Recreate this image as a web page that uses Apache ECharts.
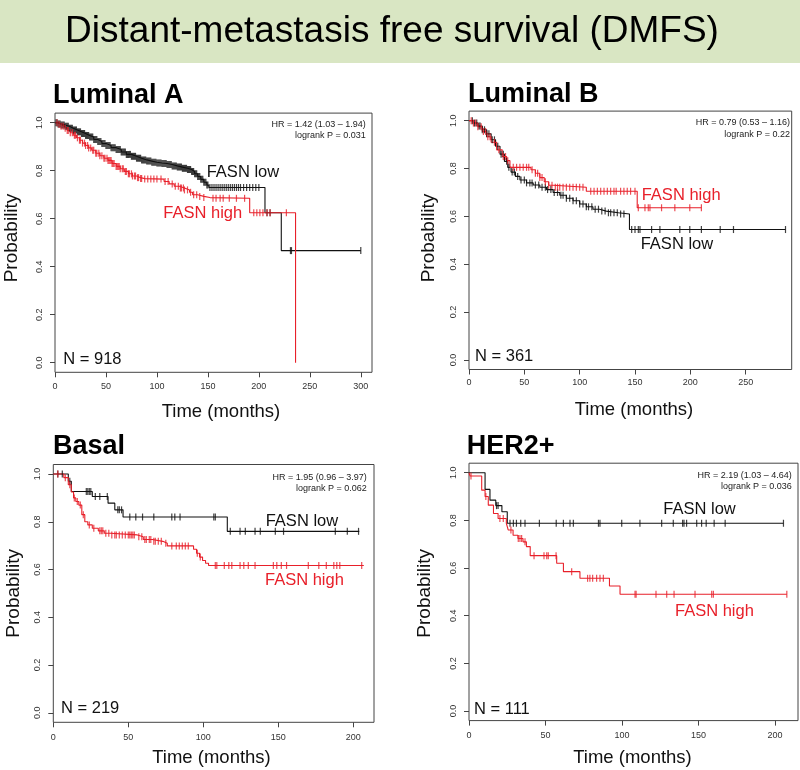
<!DOCTYPE html>
<html><head><meta charset="utf-8">
<script src="https://cdn.jsdelivr.net/npm/echarts@6/dist/echarts.min.js"></script>
<style>html,body{margin:0;padding:0;background:#fff}#c{width:800px;height:770px}</style>
</head><body><div id="c"></div>
<script>
// ---------- DATA ----------
const mainTitle = 'Distant-metastasis free survival (DMFS)';
const panelTitles = ['Luminal A', 'Luminal B', 'Basal', 'HER2+'];
const hrTexts = ['HR = 1.42 (1.03 – 1.94)', 'HR = 0.79 (0.53 – 1.16)', 'HR = 1.95 (0.96 – 3.97)', 'HR = 2.19 (1.03 – 4.64)'];
const pTexts = ['logrank P = 0.031', 'logrank P = 0.22', 'logrank P = 0.062', 'logrank P = 0.036'];
const nTexts = ['N = 918', 'N = 361', 'N = 219', 'N = 111'];
const lowLabel = 'FASN low';
const highLabel = 'FASN high';
const yAxisName = 'Probability';
const xAxisName = 'Time (months)';
const yTicks = [0, 0.2, 0.4, 0.6, 0.8, 1.0];
const xTicksA = [0, 50, 100, 150, 200, 250, 300];
const xTicksB = [0, 50, 100, 150, 200, 250];
const xTicksC = [0, 50, 100, 150, 200];
const xTicksD = [0, 50, 100, 150, 200];
const xMaxes = [311, 291.6, 213.8, 215];

// Luminal A
const lumA_low_t = [0, 3, 6, 10, 14, 18, 22, 26, 30, 34, 38, 42, 46, 50, 55, 60, 65, 70, 75, 80, 85, 90, 95, 100, 105, 110, 115, 120, 125, 130, 134, 137, 140, 143, 146, 149, 151, 206, 222, 300];
const lumA_low_s = [1.0, 0.995, 0.99, 0.985, 0.977, 0.97, 0.962, 0.955, 0.947, 0.94, 0.93, 0.922, 0.913, 0.905, 0.896, 0.888, 0.878, 0.868, 0.86, 0.852, 0.845, 0.84, 0.835, 0.832, 0.83, 0.826, 0.82, 0.815, 0.81, 0.805, 0.797, 0.787, 0.776, 0.764, 0.752, 0.74, 0.73, 0.625, 0.467, 0.467];
const lumA_low_cens = [1, 2, 3, 4, 5, 6, 7, 8, 9, 10, 11, 12, 13, 14, 15, 16, 17, 18, 19, 20, 21, 22, 23, 24, 25, 26, 27, 28, 29, 30, 31, 32, 33, 34, 35, 36, 37, 38, 39, 40, 41, 42, 43, 44, 45, 46, 47, 48, 49, 50, 51, 52, 53, 54, 55, 56, 57, 58, 59, 60, 61, 62, 63, 64, 65, 66, 67, 68, 69, 70, 71, 72, 73, 74, 75, 76, 77, 78, 79, 80, 81, 82, 83, 84, 85, 86, 87, 88, 89, 90, 91, 92, 93, 94, 95, 96, 97, 98, 99, 100, 101, 102, 103, 104, 105, 106, 107, 108, 109, 110, 111, 112, 113, 114, 115, 116, 117, 118, 119, 120, 121, 122, 123, 124, 125, 126, 127, 128, 129, 130, 131, 132, 133, 134, 135, 136, 137, 138, 139, 140, 141, 142, 143, 144, 145, 146, 147, 148, 149, 150, 152, 154, 156, 158, 160, 162, 164, 166, 168, 170, 172, 174, 176, 178, 180, 182, 185, 188, 191, 194, 197, 200, 208, 211, 231, 232, 300];
const lumA_high_t = [0, 3, 6, 9, 12, 15, 18, 21, 24, 27, 30, 33, 36, 40, 44, 48, 52, 56, 60, 64, 68, 72, 76, 80, 84, 88, 107, 112, 117, 122, 127, 132, 135, 140, 146, 152, 191, 236];
const lumA_high_s = [1.0, 0.993, 0.985, 0.977, 0.968, 0.958, 0.948, 0.937, 0.927, 0.915, 0.905, 0.895, 0.885, 0.873, 0.862, 0.852, 0.843, 0.83, 0.818, 0.808, 0.797, 0.787, 0.778, 0.771, 0.767, 0.765, 0.755, 0.745, 0.735, 0.728, 0.72, 0.71, 0.70, 0.693, 0.688, 0.685, 0.625, 0.0];
const lumA_high_cens = [2, 4, 6, 8, 10, 12, 13, 15, 17, 19, 20, 22, 24, 25, 27, 29, 30, 32, 33, 35, 37, 38, 40, 41, 43, 44, 46, 48, 49, 51, 52, 53, 54, 55, 56, 57, 58, 60, 61, 62, 63, 64, 66, 67, 69, 70, 72, 73, 75, 76, 78, 79, 81, 82, 84, 85, 88, 91, 94, 97, 100, 104, 108, 111, 115, 118, 121, 123, 124, 126, 127, 130, 133, 136, 139, 142, 146, 155, 158, 162, 165, 171, 178, 186, 195, 198, 201, 204, 208, 211, 227];

// Luminal B
const lumB_low_t = [0, 4, 8, 12, 16, 20, 24, 28, 32, 35, 38, 42, 46, 52, 58, 64, 70, 76, 82, 88, 94, 100, 106, 112, 118, 124, 135, 145, 286];
const lumB_low_s = [1.0, 0.99, 0.978, 0.962, 0.945, 0.92, 0.893, 0.86, 0.83, 0.805, 0.785, 0.767, 0.752, 0.74, 0.731, 0.722, 0.712, 0.70, 0.688, 0.676, 0.665, 0.652, 0.64, 0.63, 0.622, 0.615, 0.61, 0.545, 0.545];
const lumB_low_cens = [3, 5, 7, 9, 10, 12, 14, 16, 18, 21, 23, 26, 29, 31, 34, 36, 39, 41, 44, 47, 50, 52, 55, 57, 60, 63, 66, 69, 71, 74, 77, 80, 83, 85, 88, 91, 94, 97, 100, 103, 106, 108, 111, 114, 117, 120, 123, 126, 128, 131, 134, 137, 140, 147, 150, 153, 154.5, 165, 172.5, 190.5, 199.5, 210, 227, 239, 286];
const lumB_high_t = [0, 4, 8, 12, 16, 20, 25, 30, 34, 37, 56, 60, 64, 68, 72, 76, 106, 152, 210];
const lumB_high_s = [1.0, 0.99, 0.975, 0.955, 0.933, 0.91, 0.878, 0.85, 0.833, 0.805, 0.795, 0.78, 0.762, 0.745, 0.73, 0.722, 0.705, 0.636, 0.636];
const lumB_high_cens = [2, 4, 6, 8, 11, 13, 15, 17, 19, 23, 27, 31, 33, 35, 40, 43, 46, 49, 52, 54, 57, 60, 62, 64, 66, 69, 72, 75, 78, 80, 82, 85, 88, 91, 94, 97, 100, 103, 110, 113, 116, 119, 122, 125, 128, 131, 133, 137, 140, 143, 146, 150, 153, 159, 162, 163.5, 174, 186, 199.5, 210];

// Basal
const basal_low_t = [0, 10, 12, 26, 36.5, 41, 46.5, 116, 204];
const basal_low_s = [1.0, 0.97, 0.927, 0.906, 0.878, 0.85, 0.82, 0.76, 0.76];
const basal_low_cens = [3, 6, 11, 22, 23, 24, 25, 28, 31, 36, 43, 44, 45.5, 51, 55, 59.5, 67, 79, 81, 84.5, 107, 108, 118, 124.5, 128, 134.5, 138, 148, 153.5, 188, 196, 203.5];
const basal_high_t = [0, 7, 10, 12, 13.5, 15, 17, 19, 21, 23, 26, 30, 34, 38, 56, 60, 66, 73, 76, 93.5, 95.5, 97.5, 99.5, 101.5, 103.5, 207];
const basal_high_s = [1.0, 0.985, 0.955, 0.925, 0.9, 0.885, 0.87, 0.83, 0.8, 0.787, 0.773, 0.762, 0.752, 0.745, 0.737, 0.726, 0.718, 0.71, 0.699, 0.685, 0.668, 0.652, 0.638, 0.626, 0.617, 0.617];
const basal_high_cens = [3, 8, 11, 14, 16, 18, 20, 24, 27, 31, 32, 33, 35, 37, 39, 41, 42, 44, 46, 48, 50, 51, 52, 53, 54, 57, 59, 61, 62, 64, 65, 67, 68, 70, 72, 75, 79, 82, 84, 86, 88, 90, 96, 98, 108, 109, 114, 117, 119, 124.5, 127, 130, 134.5, 146.7, 149, 152, 155.5, 170, 177, 182, 187, 189, 191, 205.6];

// HER2+
const her2_low_t = [0, 10.5, 13.7, 17.5, 21.5, 25, 205.5];
const her2_low_s = [1.0, 0.93, 0.885, 0.862, 0.836, 0.788, 0.788];
const her2_low_cens = [18, 19, 26.8, 29, 31, 33.8, 36.6, 46, 57, 61.7, 66, 68.2, 84.6, 85.6, 99.8, 111.7, 125.9, 133.5, 139.6, 140.5, 142.2, 148.8, 152, 155, 160.2, 167.4, 205.5];
const her2_high_t = [0, 0.7, 8.3, 10.5, 12.6, 16, 19, 24.4, 25.6, 28.8, 32, 35.3, 37.5, 40, 57.3, 61.7, 72.5, 91.8, 98.7, 207.7];
const her2_high_s = [1.0, 0.986, 0.927, 0.9, 0.864, 0.829, 0.808, 0.788, 0.76, 0.738, 0.724, 0.71, 0.69, 0.652, 0.62, 0.585, 0.557, 0.525, 0.49, 0.49];
const her2_high_cens = [1.3, 11, 20.2, 22.4, 27.4, 32.2, 33.3, 34.4, 36.6, 42.5, 49, 50.8, 51.8, 56.9, 67.1, 77.5, 79, 80.8, 83.4, 85.6, 87.8, 108.5, 109.2, 122.2, 129.2, 134, 147.7, 158.6, 159.7, 207.7];

// ---------- BUILD ----------
const panels = [
  {low: [lumA_low_t, lumA_low_s, lumA_low_cens], high: [lumA_high_t, lumA_high_s, lumA_high_cens], xt: xTicksA},
  {low: [lumB_low_t, lumB_low_s, lumB_low_cens], high: [lumB_high_t, lumB_high_s, lumB_high_cens], xt: xTicksB},
  {low: [basal_low_t, basal_low_s, basal_low_cens], high: [basal_high_t, basal_high_s, basal_high_cens], xt: xTicksC},
  {low: [her2_low_t, her2_low_s, her2_low_cens], high: [her2_high_t, her2_high_s, her2_high_cens], xt: xTicksD}
];

// layout (pixels)
const grids = [
  {left: 55, top: 113.1, width: 317, height: 259.2},
  {left: 469, top: 111.1, width: 322.7, height: 258.4},
  {left: 53.3, top: 464.5, width: 320.7, height: 257.8},
  {left: 469, top: 463.2, width: 329, height: 257.4}
];
const xLabelMargin = [10, 9, 11, 10];
const layoutText = [
  {title: [53, 96], hr: [365.7, 124.3], p: [365.7, 136], lowL: [206.7, 172.7], highL: [163.3, 213.3], n: [63.3, 359.3], prob: [11.7, 238], time: [221, 412]},
  {title: [468, 95], hr: [790, 122.7], p: [790, 135], lowL: [640.7, 244], highL: [641.7, 195], n: [475, 356.7], prob: [428.3, 238], time: [634, 410]},
  {title: [53, 446.7], hr: [366.7, 477.3], p: [366.7, 488.3], lowL: [265.7, 521.7], highL: [265, 580], n: [61, 708.3], prob: [13.3, 593.3], time: [211.5, 758.3]},
  {title: [466.7, 446.7], hr: [791.7, 475.7], p: [791.7, 486.7], lowL: [663.3, 509.3], highL: [675, 611.7], n: [474, 709.3], prob: [425, 593.3], time: [632.5, 758.3]}
];

const BLACK = '#111111';
const RED = '#e8202a';
const FONT = '"Liberation Sans", Arial, Helvetica, sans-serif';

function survAt(ts, ss, t) {
  let v = ss[0];
  for (let i = 0; i < ts.length; i++) { if (ts[i] <= t) v = ss[i]; else break; }
  return v;
}

const option = {
  animation: false,
  backgroundColor: '#ffffff',
  grid: [], xAxis: [], yAxis: [], series: [], graphic: []
};

panels.forEach((p, i) => {
  const g = grids[i];
  option.grid.push(Object.assign({show: true, borderColor: '#444', borderWidth: 1, backgroundColor: 'transparent', containLabel: false}, g));
  option.xAxis.push({
    type: 'value', gridIndex: i, min: 0, max: xMaxes[i], position: 'bottom',
    axisLine: {show: false, onZero: false},
    axisTick: {show: true, length: 5, lineStyle: {color: '#444'}, customValues: p.xt},
    axisLabel: {show: true, customValues: p.xt, margin: xLabelMargin[i], fontSize: 9, color: '#333', fontFamily: FONT},
    splitLine: {show: false}
  });
  option.yAxis.push({
    type: 'value', gridIndex: i, min: -0.04, max: 1.04, position: 'left',
    axisLine: {show: false, onZero: false},
    axisTick: {show: true, length: 5, lineStyle: {color: '#444'}, customValues: yTicks},
    axisLabel: {show: true, customValues: yTicks, rotate: 90, margin: 11, fontSize: 9, color: '#333', fontFamily: FONT,
      formatter: v => v.toFixed(1)},
    splitLine: {show: false}
  });
  [['low', BLACK], ['high', RED]].forEach(([k, col]) => {
    const [ts, ss, cens] = p[k];
    option.series.push({
      type: 'line', xAxisIndex: i, yAxisIndex: i, step: 'end', showSymbol: false, symbol: 'none',
      lineStyle: {color: col, width: 1.1}, data: ts.map((t, j) => [t, ss[j]]), z: 2, silent: true
    });
    option.series.push({
      type: 'scatter', xAxisIndex: i, yAxisIndex: i, symbol: 'rect', symbolSize: [1.2, 7],
      itemStyle: {color: col}, data: cens.map(t => [t, survAt(ts, ss, t)]), z: 3, silent: true
    });
  });
  const L = layoutText[i];
  const txt = (pos, text, opts) => Object.assign({type: 'text', x: pos[0], y: pos[1],
    style: Object.assign({text: text, fontFamily: FONT, fill: '#111', textVerticalAlign: 'middle'}, opts.style || {})}, opts.el || {});
  option.graphic.push(
    txt(L.title, panelTitles[i], {style: {fontSize: 27, fontWeight: 'bold', textAlign: 'left', fill: '#000'}}),
    txt(L.hr, hrTexts[i], {style: {fontSize: 9, textAlign: 'right', fill: '#222'}}),
    txt(L.p, pTexts[i], {style: {fontSize: 9, textAlign: 'right', fill: '#222'}}),
    txt(L.lowL, lowLabel, {style: {fontSize: 16.5, textAlign: 'left', fill: '#111'}}),
    txt(L.highL, highLabel, {style: {fontSize: 16.5, textAlign: 'left', fill: RED}}),
    txt(L.n, nTexts[i], {style: {fontSize: 16.5, textAlign: 'left', fill: '#111'}}),
    txt(L.prob, yAxisName, {style: {fontSize: 19, textAlign: 'center', fill: '#111'}, el: {rotation: Math.PI / 2}}),
    txt(L.time, xAxisName, {style: {fontSize: 18.5, textAlign: 'center', fill: '#111'}})
  );
});

option.graphic.unshift(
  {type: 'rect', shape: {x: 0, y: 0, width: 800, height: 63}, style: {fill: '#d9e6c3'}, z: -1},
  {type: 'text', x: 392, y: 32, style: {text: mainTitle, fontFamily: FONT, fontSize: 37, fill: '#000', textAlign: 'center', textVerticalAlign: 'middle'}}
);

const chart = echarts.init(document.getElementById('c'), null, {renderer: 'canvas'});
chart.setOption(option);
</script>
</body></html>
